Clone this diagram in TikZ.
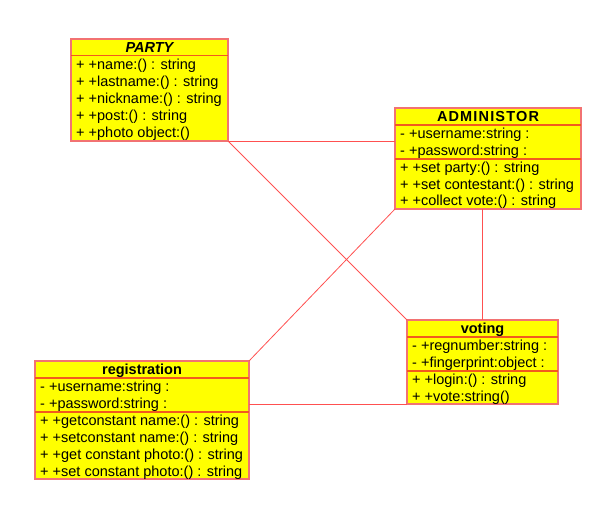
\documentclass[tikz,border=0pt]{standalone}
\usepackage{fontspec}
\setmainfont{Liberation Sans}
\definecolor{umlfill}{HTML}{FFFF00}
\definecolor{umlborder}{HTML}{F27272}
\definecolor{umldiv}{HTML}{F25A1E}
\definecolor{umlline}{HTML}{FF5050}
\begin{document}
\begin{tikzpicture}[x=1pt,y=-1pt,
  umlbox/.style={draw=umlborder,fill=umlfill,line width=1.6pt,rectangle,anchor=north west,inner sep=0pt,outer sep=0pt},
  divline/.style={draw=umldiv,line width=1.6pt},
  conn/.style={draw=umlline,line width=0.8pt},
  ttl/.style={font=\fontsize{14.5}{17}\selectfont\bfseries,anchor=base,inner sep=0pt},
  row/.style={font=\fontsize{14.5}{17}\selectfont,anchor=base west,inner sep=0pt}
]
\useasboundingbox (0,0) rectangle (600,512);

\node[umlbox,minimum width=157,minimum height=102] (party) at (71,39) {};
\node[umlbox,minimum width=186,minimum height=101] (admin) at (395,108) {};
\node[umlbox,minimum width=214,minimum height=118] (reg) at (35,361) {};
\node[umlbox,minimum width=151,minimum height=84] (voting) at (407,320) {};

% PARTY
\draw[divline] (71,55.5) -- (228,55.5);
\node[ttl,font=\fontsize{14.5}{17}\selectfont\bfseries\itshape] (partyT) at (149.5,52.5) {PARTY};
\node[row] (p1) at (76,69) {+ +name:() : string};
\node[row] (p2) at (76,86) {+ +lastname:() : string};
\node[row] (p3) at (76,103) {+ +nickname:() : string};
\node[row] (p4) at (76,120) {+ +post:() : string};
\node[row] (p5) at (76,137) {+ +photo object:()};

% ADMINISTOR
\draw[divline] (395,125) -- (581,125);
\draw[divline] (395,159) -- (581,159);
\node[ttl,font=\fontsize{14.5}{17}\selectfont\bfseries\addfontfeature{LetterSpace=8}] (adminT) at (488,121.5) {ADMINISTOR};
\node[row] (a1) at (400,138) {- +username:string :};
\node[row] (a2) at (400,155) {- +password:string :};
\node[row] (a3) at (400,172) {+ +set party:() : string};
\node[row] (a4) at (400,189) {+ +set contestant:() : string};
\node[row] (a5) at (400,205.5) {+ +collect vote:() : string};

% registration
\draw[divline] (35,378) -- (249,378);
\draw[divline] (35,412) -- (249,412);
\node[ttl] (regT) at (142,374.5) {registration};
\node[row] (r1) at (40,391) {- +username:string :};
\node[row] (r2) at (40,408) {- +password:string :};
\node[row] (r3) at (40,425) {+ +getconstant name:() : string};
\node[row] (r4) at (40,442) {+ +setconstant name:() : string};
\node[row] (r5) at (40,459) {+ +get constant photo:() : string};
\node[row] (r6) at (40,476) {+ +set constant photo:() : string};

% voting
\draw[divline] (407,337) -- (558,337);
\draw[divline] (407,371) -- (558,371);
\node[ttl] (votingT) at (482.5,333.5) {voting};
\node[row] (v1) at (412,350) {- +regnumber:string :};
\node[row] (v2) at (412,367) {- +fingerprint:object :};
\node[row] (v3) at (412,384) {+ +login:() : string};
\node[row] (v4) at (412,401) {+ +vote:string()};

% connectors
\draw[conn] (party.south east) -- (voting.north west);
\draw[conn] (party.south east) -- (party.south east -| admin.west);
\draw[conn] (admin.south west) -- (reg.north east);
\draw[conn] (voting.north |- admin.south) -- (voting.north);
\draw[conn] (voting.south west) -- (voting.south west -| reg.east);
\end{tikzpicture}
\end{document}
